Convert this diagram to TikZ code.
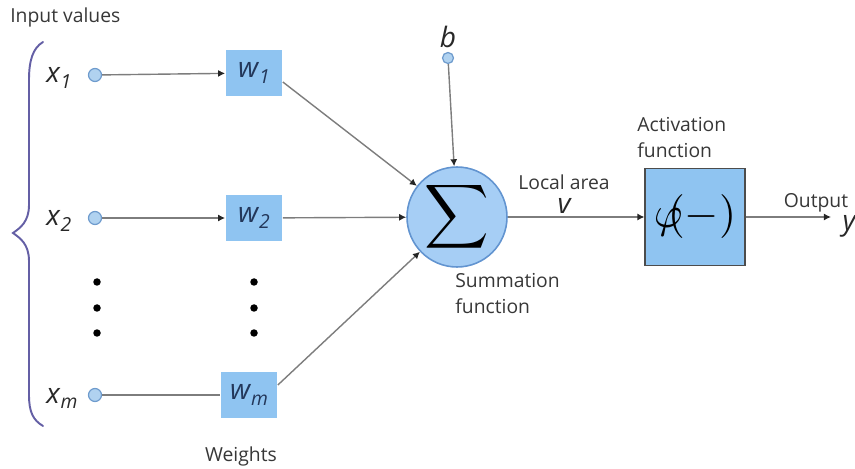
\documentclass[tikz,border=0pt]{standalone}
\usepackage{fontspec}
\setmainfont{Open Sans}
\usepackage{graphicx}
\usetikzlibrary{positioning, arrows.meta}

\definecolor{boxblue}{RGB}{143,196,241}
\definecolor{sumfill}{RGB}{166,206,245}
\definecolor{sumedge}{RGB}{98,148,208}
\definecolor{dotfill}{RGB}{176,210,240}
\definecolor{dotedge}{RGB}{110,155,205}
\definecolor{linegray}{RGB}{125,125,125}
\definecolor{textgray}{RGB}{55,55,55}
\definecolor{vargray}{RGB}{40,40,40}
\definecolor{wtext}{RGB}{35,55,90}
\definecolor{bracecol}{RGB}{100,95,165}

% subscripted variable in the sans font
\newcommand{\subvar}[2]{#1\kern0.5pt\raisebox{-0.35ex}{\fontsize{11}{11}\selectfont #2}}

\begin{document}
\begin{tikzpicture}[x=0.02cm, y=-0.02cm]
      % Define styles for nodes
      \tikzset{
        inputdot/.style={circle, draw=dotedge, fill=dotfill, line width=0.7pt, minimum size=0.26cm, inner sep=0pt},
        weightbox/.style={rectangle, fill=boxblue, minimum width=1.14cm, minimum height=0.94cm, inner sep=0pt,
          font=\fontsize{16}{18}\selectfont\itshape, text=wtext},
        sumnode/.style={circle, draw=sumedge, fill=sumfill, line width=0.9pt, minimum size=2cm, inner sep=0pt},
        actbox/.style={rectangle, draw=gray!60!black, fill=boxblue, line width=0.6pt, minimum width=2cm, minimum height=1.94cm, inner sep=0pt},
        annotation/.style={font=\fontsize{11}{14.5}\selectfont, text=textgray, align=left, inner sep=0pt},
        varlabel/.style={font=\fontsize{16}{18}\selectfont\itshape, text=vargray, inner sep=0pt},
        vdot/.style={circle, fill=black, minimum size=0.15cm, inner sep=0pt},
        link/.style={draw=linegray, line width=0.8pt},
        arrowlink/.style={link, -{Latex[length=4pt, width=4pt, color=black!85]}}
      }
      \useasboundingbox (0,0) rectangle (855,469);

      % Inputs
      \node[annotation, anchor=west] (intitle) at (10,17) {Input values};
      \node[inputdot] (x1) at (95,75) {};
      \node[inputdot] (x2) at (95,218) {};
      \node[inputdot] (xm) at (95,395) {};
      \node[varlabel, anchor=base west] (x1lab) at (46,83) {\subvar{x}{1}};
      \node[varlabel, anchor=base west] (x2lab) at (46,226) {\subvar{x}{2}};
      \node[varlabel, anchor=base west] (xmlab) at (46,403) {\subvar{x}{m}};

      % Brace round the inputs
      \draw[bracecol, line width=1.1pt, line cap=round]
        (43,42) .. controls (33,48) and (29,60) .. (29,80)
        -- (29,205) .. controls (29,222) and (20,228) .. (13,233)
        .. controls (20,238) and (29,244) .. (29,261)
        -- (29,395) .. controls (29,412) and (33,420) .. (43,426);

      % Weights
      \node[weightbox] (w1) at (254,73) {\subvar{w}{1}};
      \node[weightbox] (w2) at (254,218) {\subvar{w}{2}};
      \node[weightbox] (wm) at (249,395) {\subvar{w}{m}};
      \node[annotation] (wtitle) at (241,456) {Weights};

      % Vertical dots for the omitted terms
      \foreach \yy [count=\i] in {282,308,333} {
        \node[vdot] (xdot\i) at (97,\yy) {};
        \node[vdot] (wdot\i) at (254,\yy) {};
      }

      % Summation and bias
      \node[sumnode] (sum) at (457,217) {\scalebox{2.55}{$\displaystyle\sum$}};
      \node[inputdot, minimum size=0.22cm] (bias) at (448,58) {};
      \node[varlabel, above=2pt of bias] (blab) {b};
      \node[annotation, anchor=north west] (sumtitle) at (455,273) {Summation\\function};

      % Activation
      \node[actbox] (act) at (695,217) {\scalebox{2.5}{$\varphi\mkern-6mu(-)$}};
      \node[annotation, anchor=south west] (acttitle) at (637,158) {Activation\\function};
      \node[annotation] (loclab) at (564,182) {Local area};
      \node[varlabel, below=5pt of loclab] (vlab) {v};
      \coordinate (out) at (831,217);
      \node[annotation] (outlab) at (816,203) {Output};
      \node[varlabel] (ylab) at (849,226) {y};

      % Draw the edges connecting the nodes
      \draw[arrowlink] (x1) -- (w1);
      \draw[arrowlink] (x2) -- (w2);
      \draw[link] (xm) -- (wm);
      \draw[arrowlink] ([yshift=-0.18cm]w1.east) -- (sum);
      \draw[arrowlink] (w2) -- (sum);
      \draw[arrowlink] ([yshift=0.2cm]wm.east) -- (sum);
      \draw[arrowlink] (bias) -- (sum);
      \draw[arrowlink] (sum) -- (act);
      \draw[arrowlink] (act) -- (out);
    \end{tikzpicture}
\end{document}
